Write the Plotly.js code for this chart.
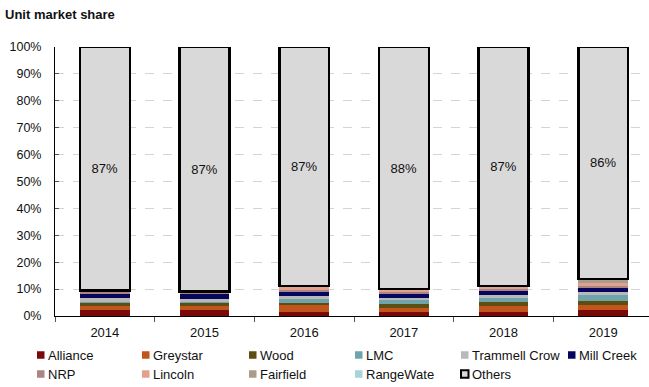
<!DOCTYPE html>
<html>
<head>
<meta charset="utf-8">
<script src="https://cdn.plot.ly/plotly-3.0.1.min.js"></script>
<style>
  html, body { margin: 0; padding: 0; background: #fff; overflow: hidden; }
  #chart { width: 653px; height: 387px; }
</style>
</head>
<body>
<div id="chart"></div>
<script>
// Years on the category axis
const years = ['2014', '2015', '2016', '2017', '2018', '2019'];

// Share of units by operator (percent of units)
const alliance   = [2.1, 2.0, 1.6, 1.3, 1.6, 2.1];
const greystar   = [1.5, 1.4, 2.5, 1.7, 1.9, 2.0];
const wood       = [1.2, 1.2, 0.6, 1.5, 1.5, 1.6];
const lmc        = [0.3, 0.3, 1.5, 1.3, 1.4, 2.0];
const trammell   = [1.2, 1.3, 1.0, 0.8, 1.1, 1.3];
const millCreek  = [1.6, 1.6, 1.6, 1.3, 1.6, 1.3];
const nrp        = [0.9, 0.5, 0.8, 0.8, 0.8, 1.0];
const lincoln    = [0.3, 0.5, 0.8, 0.8, 0.8, 0.9];
const fairfield  = [0.0, 0.0, 0.3, 0.0, 0.0, 1.3];
const rangeWater = [0.0, 0.0, 0.3, 0.3, 0.3, 0.3];
const others     = [87, 87, 87, 88, 87, 86];

const FONT = 'Liberation Sans, Arial, sans-serif';

const W = 653, H = 387;
const M = { l: 55, r: 0, t: 47, b: 71 };
const plotW = W - M.l - M.r, plotH = H - M.t - M.b;
// pixel -> paper coordinates (for the legend block under the axis)
const px = x => (x - M.l) / plotW;
const py = y => (H - M.b - y) / plotH;

const series = [
  ['Alliance',      alliance,   '#7a0a0a'],
  ['Greystar',      greystar,   '#c0561c'],
  ['Wood',          wood,       '#5f4e14'],
  ['LMC',           lmc,        '#6fa4aa'],
  ['Trammell Crow', trammell,   '#b9b9b9'],
  ['Mill Creek',    millCreek,  '#06065e'],
  ['NRP',           nrp,        '#ab8484'],
  ['Lincoln',       lincoln,    '#e3a08f'],
  ['Fairfield',     fairfield,  '#a89d8a'],
  ['RangeWate',     rangeWater, '#a9d4d7']
];

const traces = series.map(([name, vals, color]) => ({
  type: 'bar',
  name: name,
  x: years,
  y: vals,
  marker: { color: color, line: { width: 0 } },
  textposition: 'none',
  hoverinfo: 'skip'
}));

traces.push({
  type: 'bar',
  name: 'Others',
  x: years,
  y: others,
  text: others.map(v => v + '%'),
  textposition: 'inside',
  insidetextanchor: 'middle',
  textangle: 0,
  textfont: { family: FONT, size: 13, color: '#111' },
  marker: { color: '#d9d9d9', line: { color: '#000', width: 2.5 } },
  hoverinfo: 'skip'
});

// Legend: two rows of six / five entries
const legendCols = [37, 142, 249, 355, 461, 568];
const legendRows = [355, 374];
const entries = series.map(s => ({ name: s[0], fill: s[2], line: s[2], lw: 0 }));
entries.push({ name: 'Others', fill: '#d9d9d9', line: '#000', lw: 2 });

const shapes = [];
const annotations = [];
entries.forEach((e, i) => {
  const row = i < 6 ? 0 : 1;
  const col = i < 6 ? i : i - 6;
  const x0 = legendCols[col], yc = legendRows[row];
  const s = 7.5;
  shapes.push({
    type: 'rect', xref: 'paper', yref: 'paper',
    x0: px(x0), x1: px(x0 + s), y0: py(yc + s / 2), y1: py(yc - s / 2),
    fillcolor: e.fill, line: { color: e.line, width: e.lw }
  });
  annotations.push({
    xref: 'paper', yref: 'paper',
    x: px(x0 + s + 1), y: py(yc),
    xanchor: 'left', yanchor: 'middle',
    text: e.name, showarrow: false,
    font: { family: FONT, size: 13, color: '#111' }
  });
});

const layout = {
  width: W,
  height: H,
  margin: M,
  paper_bgcolor: '#fff',
  plot_bgcolor: '#fff',
  barmode: 'stack',
  barnorm: 'percent',
  bargap: 0.5,
  font: { family: FONT, size: 13, color: '#111' },
  showlegend: false,
  title: {
    text: '<b>Unit market share</b>',
    font: { family: FONT, size: 13, color: '#111' },
    xref: 'container', x: 5 / W, xanchor: 'left',
    yref: 'container', y: 1 - 14 / H, yanchor: 'middle'
  },
  xaxis: {
    type: 'category',
    showline: true, linecolor: '#000', linewidth: 1,
    ticks: 'outside', tickson: 'boundaries', ticklen: 5, tickcolor: '#555',
    ticklabelstandoff: 4,
    tickfont: { family: FONT, size: 13, color: '#111' },
    showgrid: false, zeroline: false, fixedrange: true
  },
  yaxis: {
    range: [0, 100],
    tickvals: [0, 10, 20, 30, 40, 50, 60, 70, 80, 90, 100],
    ticktext: ['0%', '10%', '20%', '30%', '40%', '50%', '60%', '70%', '80%', '90%', '100%'],
    showline: true, linecolor: '#000', linewidth: 1,
    ticks: 'inside', ticklen: 4, tickcolor: '#555',
    ticklabelstandoff: 10,
    tickfont: { family: FONT, size: 12.5, color: '#111' },
    showgrid: true, gridcolor: '#d4d4d4', griddash: 'dash', gridwidth: 1,
    zeroline: false, fixedrange: true
  },
  shapes: shapes,
  annotations: annotations
};

Plotly.newPlot('chart', traces, layout, { displayModeBar: false, staticPlot: true });
</script>
</body>
</html>
